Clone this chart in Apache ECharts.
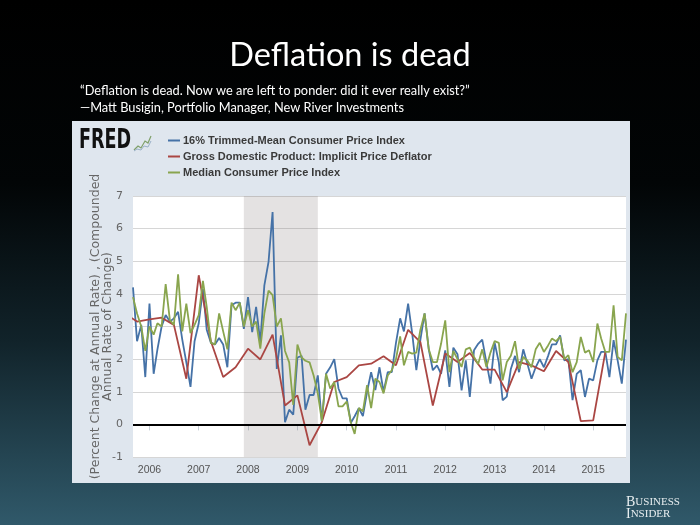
<!DOCTYPE html>
<html>
<head>
<meta charset="utf-8">
<script src="https://cdn.jsdelivr.net/npm/echarts@6/dist/echarts.min.js"></script>
<style>
html,body{margin:0;padding:0;background:#000;}
#c{width:700px;height:525px;}
</style>
</head>
<body>
<div id="c"></div>
<script>
// ---- data ----
const monthStart = [2005, 9];   // first monthly observation: Sep 2005
const quarterStart = [2005, 7]; // first quarterly observation: 2005 Q3

const trimmedMeanCPI = [
  4.2, 2.55, 3.05, 1.45, 3.7, 1.55, 2.3, 3.0, 3.35, 3.15,
  3.25, 3.45, 2.6, 1.9, 1.15, 2.55, 3.1, 4.15, 2.9, 2.5,
  2.45, 2.65, 2.45, 1.75, 3.65, 3.73, 3.73, 2.93, 3.9, 2.83,
  3.6, 2.52, 4.26, 4.98, 6.51, 1.7, 2.73, 0.07, 0.45, 0.3,
  2.05, 2.1, 0.45, 0.9, 0.9, 1.5, 0.08, 1.55, 1.75, 2.0,
  1.1, 0.8, 0.8, 0.05, 0.25, 0.5, 0.25, 1.0, 1.6, 1.05,
  1.75, 1.0, 1.6, 1.6, 2.5, 3.25, 2.85, 3.7, 2.8, 1.66,
  2.6, 3.4, 2.3, 1.66, 1.81, 1.55, 2.27, 1.15, 2.35, 2.15,
  1.04, 1.96, 0.84, 2.27, 2.47, 2.6, 1.9, 1.25, 2.5, 1.9,
  0.74, 0.85, 1.7, 2.1, 1.6, 2.3, 1.85, 1.4, 1.75, 2.0,
  1.75, 2.1, 2.45, 2.45, 2.73, 1.96, 2.0, 0.74, 1.55, 1.66,
  0.84, 1.4, 1.35, 1.96, 2.22, 2.22, 1.45, 2.58, 1.96, 1.25, 2.6
];
const medianCPI = [
  3.9, 3.4, 3.0, 2.25, 3.0, 2.75, 3.1, 3.0, 4.3, 3.2,
  3.05, 4.6, 2.85, 3.7, 2.8, 3.05, 3.35, 4.4, 3.6, 2.5,
  2.45, 3.4, 2.85, 2.3, 3.73, 3.5, 3.73, 3.0, 3.5, 3.0,
  3.15, 2.32, 3.4, 4.1, 3.96, 3.0, 3.25, 2.25, 1.9, 0.6,
  2.45, 2.05, 1.95, 1.9, 1.5, 0.95, 0.1, 1.55, 1.1, 1.3,
  0.55, 0.55, 0.7, 0.05, -0.29, 0.5, 0.4, 1.2, 0.5, 1.4,
  1.3, 0.95, 1.5, 1.66, 2.0, 2.7, 1.81, 2.22, 2.17, 2.2,
  2.9, 3.4, 2.3, 1.91, 1.91, 2.47, 3.19, 1.6, 2.25, 2.0,
  1.76, 2.3, 2.35, 2.07, 1.85, 2.3, 1.76, 2.2, 2.55, 2.5,
  1.35, 1.91, 2.1, 2.55, 1.7, 2.07, 1.95, 1.75, 2.3, 2.5,
  2.22, 2.42, 2.63, 2.55, 2.68, 2.0, 2.12, 1.6, 1.91, 2.68,
  2.2, 2.27, 1.91, 3.09, 2.63, 2.22, 2.22, 3.65, 2.07, 1.96, 3.4
];
const gdpDeflator = [
  3.4, 3.15, 3.22, 3.27, 3.05, 1.4, 4.57, 2.55, 1.45, 1.75,
  2.32, 1.99, 2.75, 0.58, 0.89, -0.64, 0.07, 1.3, 1.45, 1.81,
  1.86, 2.09, 1.81, 2.9, 2.52, 0.58, 2.17, 1.91, 2.19, 1.68,
  1.68, 0.99, 1.91, 1.81, 1.63, 2.25, 1.91, 0.1, 0.12, 2.22
];
const seriesNames = [
  '16% Trimmed-Mean Consumer Price Index',
  'Gross Domestic Product: Implicit Price Deflator',
  'Median Consumer Price Index'
];
const seriesColors = ['#4572A7', '#AA4643', '#89A54E'];
const recession = ['2007-12-01', '2009-06-01'];
const xRange = ['2005-09-01', '2015-09-01'];
const yTicks = { min: -1, max: 7, interval: 1 };
const yAxisTitle = '(Percent Change at Annual Rate) , (Compounded\nAnnual Rate of Change)';
const slideTitle = 'Deflation is dead';
const quoteLines = [
  '\u201CDeflation is dead. Now we are left to ponder: did it ever really exist?\u201D',
  '\u2014Matt Busigin, Portfolio Manager, New River Investments'
];

function dateStr(y, m) {
  const d = new Date(Date.UTC(y, m - 1, 1));
  return d.getUTCFullYear() + '-' + String(d.getUTCMonth() + 1).padStart(2, '0') + '-01';
}
function pair(values, start, stepMonths) {
  return values.map((v, i) => [dateStr(start[0], start[1] + i * stepMonths), v]);
}

const chart = echarts.init(document.getElementById('c'), null, { renderer: 'canvas' });
const YEAR = 365 * 24 * 3600 * 1000;

const lineCommon = {
  type: 'line', showSymbol: false, symbol: 'none', smooth: false,
  lineStyle: { width: 1.8 }, emphasis: { disabled: true }, animation: false
};

chart.setOption({
  animation: false,
  backgroundColor: {
    type: 'linear', x: 0, y: 0, x2: 0, y2: 1,
    colorStops: [
      { offset: 0, color: '#000000' },
      { offset: 0.35, color: '#020506' },
      { offset: 0.65, color: '#11232a' },
      { offset: 1, color: '#30596a' }
    ]
  },
  title: {
    text: slideTitle, left: 'center', top: 34,
    textStyle: { color: '#ffffff', fontSize: 32.5, fontWeight: 'normal', fontFamily: 'Lato, "Open Sans", sans-serif' }
  },
  graphic: [
    { type: 'rect', z: -10, shape: { x: 72, y: 121, width: 558, height: 362 }, style: { fill: '#dfe6ee' } },
    { type: 'text', left: 80, top: 84, style: { text: quoteLines[0], fill: '#ffffff', font: '12.8px Lato, "Open Sans", sans-serif' } },
    { type: 'text', left: 80, top: 101, style: { text: quoteLines[1], fill: '#ffffff', font: '12.8px Lato, "Open Sans", sans-serif' } },
    { type: 'text', x: 79, y: 127, scaleX: 0.65, style: { text: 'FRED', fill: '#111111', font: 'bold 27px "DejaVu Sans", sans-serif' } },
    { type: 'polyline', shape: { points: [[134,150],[138,146],[141,148],[145,141],[148,143],[151,136]] }, style: { stroke: '#7fa06a', lineWidth: 1.2, fill: null } },
    { type: 'polyline', shape: { points: [[134,151],[137,149],[141,150],[144,146],[148,147],[151,141]] }, style: { stroke: '#9ab0c8', lineWidth: 1, fill: null } },
    { type: 'text', left: 626, top: 495, style: {
        text: '{a|B}{b|USINESS}\n{a|I}{b|NSIDER}', fill: '#e8eef0',
        rich: {
          a: { fontSize: 14, fontFamily: '"Liberation Serif", "DejaVu Serif", serif', fill: '#e8eef0', lineHeight: 12.5 },
          b: { fontSize: 11, fontFamily: '"Liberation Serif", "DejaVu Serif", serif', fill: '#e8eef0', lineHeight: 12.5 }
        }
      } }
  ],
  legend: {
    data: seriesNames, orient: 'vertical', left: 168, top: 135, itemGap: 5, padding: 0,
    itemWidth: 12, itemHeight: 2, icon: 'rect', selectedMode: false,
    textStyle: { color: '#3a3a3a', fontSize: 11, fontWeight: 'bold', fontFamily: '"Liberation Sans", sans-serif', padding: [0, 0, 0, -2] }
  },
  grid: {
    left: 133, right: 74, top: 196, bottom: 68,
    show: true, backgroundColor: '#ffffff', borderWidth: 0
  },
  xAxis: {
    type: 'time', min: xRange[0], max: xRange[1],
    minInterval: YEAR, maxInterval: YEAR + 2 * 86400000,
    axisLine: { show: false },
    axisTick: { show: true, length: 6, lineStyle: { color: '#c8d0d8' } },
    splitLine: { show: false },
    axisLabel: { formatter: '{yyyy}', color: '#555', fontSize: 10.5, fontFamily: '"Liberation Sans", sans-serif', margin: 8 }
  },
  yAxis: {
    type: 'value', min: yTicks.min, max: yTicks.max, interval: yTicks.interval,
    axisLine: { show: false }, axisTick: { show: false },
    splitLine: { lineStyle: { color: '#d6d6d6', width: 1 } },
    axisLabel: { color: '#666', fontSize: 11, fontFamily: '"DejaVu Sans", sans-serif', margin: 10 },
    name: yAxisTitle, nameLocation: 'middle', nameRotate: 90, nameGap: 20, nameMoveOverlap: false,
    nameTextStyle: { color: '#666', fontSize: 12.5, fontFamily: '"DejaVu Sans", sans-serif', lineHeight: 11.5 }
  },
  series: [
    Object.assign({}, lineCommon, {
      name: seriesNames[0], color: seriesColors[0],
      data: pair(trimmedMeanCPI, monthStart, 1),
      markArea: {
        silent: true, itemStyle: { color: 'rgba(120,110,110,0.2)' },
        data: [[{ xAxis: recession[0] }, { xAxis: recession[1] }]]
      }
    }),
    Object.assign({}, lineCommon, {
      name: seriesNames[1], color: seriesColors[1],
      data: pair(gdpDeflator, quarterStart, 3), clip: true
    }),
    Object.assign({}, lineCommon, {
      name: seriesNames[2], color: seriesColors[2],
      data: pair(medianCPI, monthStart, 1),
      markLine: {
        silent: true, symbol: 'none', label: { show: false },
        lineStyle: { color: '#000', width: 2.2, type: 'solid' },
        data: [{ yAxis: 0 }]
      }
    })
  ]
});
</script>
</body>
</html>
